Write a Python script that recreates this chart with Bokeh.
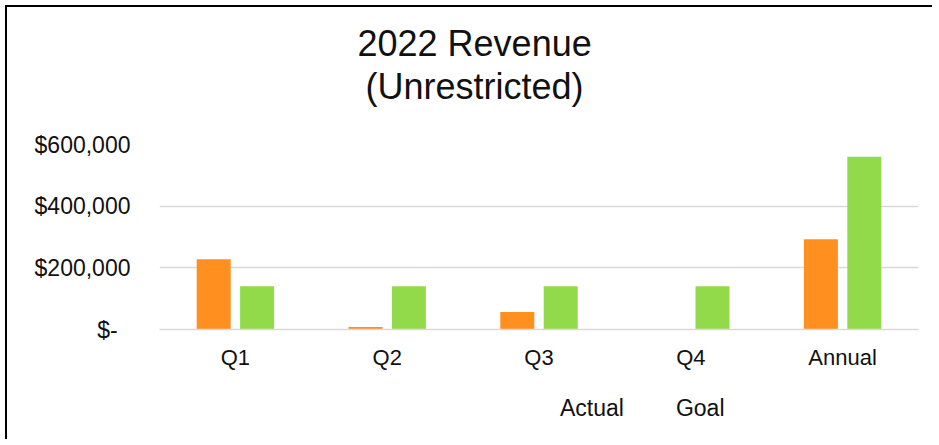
from bokeh.plotting import figure
from bokeh.layouts import column
from bokeh.models import (ColumnDataSource, FactorRange, Range1d, FixedTicker,
                          NumeralTickFormatter, Title, Legend, LegendItem)
from bokeh.transform import dodge
from bokeh.embed import file_html
from bokeh.resources import INLINE

categories = ["Q1", "Q2", "Q3", "Q4", "Annual"]
actual = [228000, 8000, 57000, 0, 293000]
goal = [140000, 140000, 140000, 140000, 560000]
y_ticks = [0, 200000, 400000, 600000]
title_lines = ["2022 Revenue", "(Unrestricted)"]
series_names = ["Actual", "Goal"]

ORANGE = "#FF901F"
GREEN = "#93DA4A"
FONT = "Liberation Sans"
TXT = "#111111"
NBSP = "\u00a0"

src = ColumnDataSource(dict(cat=categories, actual=actual, goal=goal))

# ---- main chart ----
p = figure(x_range=FactorRange(*categories), y_range=Range1d(0, 600000),
           width=925, height=382, output_backend="svg", toolbar_location=None,
           min_border_left=152, min_border_right=14, min_border_top=137,
           min_border_bottom=60)
p.x_range.range_padding = 0
p.outline_line_color = None
p.background_fill_color = "white"
p.border_fill_color = "white"

p.vbar(x=dodge("cat", -0.143, range=p.x_range), top="actual", width=0.224,
       source=src, fill_color=ORANGE, line_color=None)
p.vbar(x=dodge("cat", 0.143, range=p.x_range), top="goal", width=0.224,
       source=src, fill_color=GREEN, line_color=None)

p.xgrid.grid_line_color = None
p.ygrid.ticker = FixedTicker(ticks=y_ticks)
p.ygrid.grid_line_color = "#d9d9d9"
p.ygrid.grid_line_width = 1.5

p.yaxis.ticker = FixedTicker(ticks=y_ticks)
p.yaxis.formatter = NumeralTickFormatter(format="$0,0")
p.yaxis.major_label_overrides = {0: "$-" + NBSP * 2}
p.yaxis.axis_line_color = None
p.yaxis.major_label_standoff = 29
p.yaxis.major_label_text_font_size = "23px"

p.xaxis.axis_line_color = "#d9d9d9"
p.xaxis.axis_line_width = 1.5
p.xaxis.major_label_standoff = 15
p.xaxis.major_label_text_font_size = "22px"

for ax in (p.xaxis[0], p.yaxis[0]):
    ax.major_tick_line_color = None
    ax.minor_tick_line_color = None
    ax.major_tick_out = 0
    ax.major_tick_in = 0
    ax.minor_tick_out = 0
    ax.major_label_text_font = FONT
    ax.major_label_text_color = TXT

p.title.text = ""
spacer = Title(text=NBSP, text_font_size="1px", standoff=35)
t2 = Title(text=title_lines[1], align="left", offset=206, standoff=0,
           text_font=FONT, text_font_size="36px", text_font_style="normal",
           text_color=TXT)
t1 = Title(text=title_lines[0], align="left", offset=198, standoff=0,
           text_font=FONT, text_font_size="36px", text_font_style="normal",
           text_color=TXT)
p.add_layout(spacer, "above")
p.add_layout(t2, "above")
p.add_layout(t1, "above")

# ---- legend strip (its own frame covers the whole canvas, so nothing is clipped) ----
lg = figure(x_range=Range1d(0, 1), y_range=Range1d(0, 1), width=925, height=50,
            output_backend="svg", toolbar_location=None,
            x_axis_location=None, y_axis_location=None,
            min_border_left=0, min_border_right=0, min_border_top=0,
            min_border_bottom=0)
lg.title.text = ""
lg.outline_line_color = None
lg.xgrid.visible = False
lg.ygrid.visible = False
lg.background_fill_color = "white"
lg.border_fill_color = "white"
k_act = lg.vbar(x=[], top=[], width=0.1, fill_color=ORANGE, line_color=None)
k_goal = lg.vbar(x=[], top=[], width=0.1, fill_color=GREEN, line_color=None)

legend = Legend(items=[LegendItem(label=series_names[0], renderers=[k_act]),
                       LegendItem(label=series_names[1], renderers=[k_goal])],
                orientation="horizontal", location=(376, 17))
legend.padding = 0
legend.margin = 0
legend.spacing = 27
legend.label_standoff = 12
legend.glyph_width = 13
legend.glyph_height = 13
legend.border_line_color = None
legend.background_fill_alpha = 0
legend.label_text_font = FONT
legend.label_text_font_size = "23px"
legend.label_text_color = TXT
lg.add_layout(legend, "center")

layout = column(p, lg, spacing=0,
                styles={"border-left": "2px solid black",
                        "border-top": "2px solid black",
                        "margin-left": "5px", "margin-top": "5px"})

open("out.html", "w").write(file_html(layout, INLINE))
